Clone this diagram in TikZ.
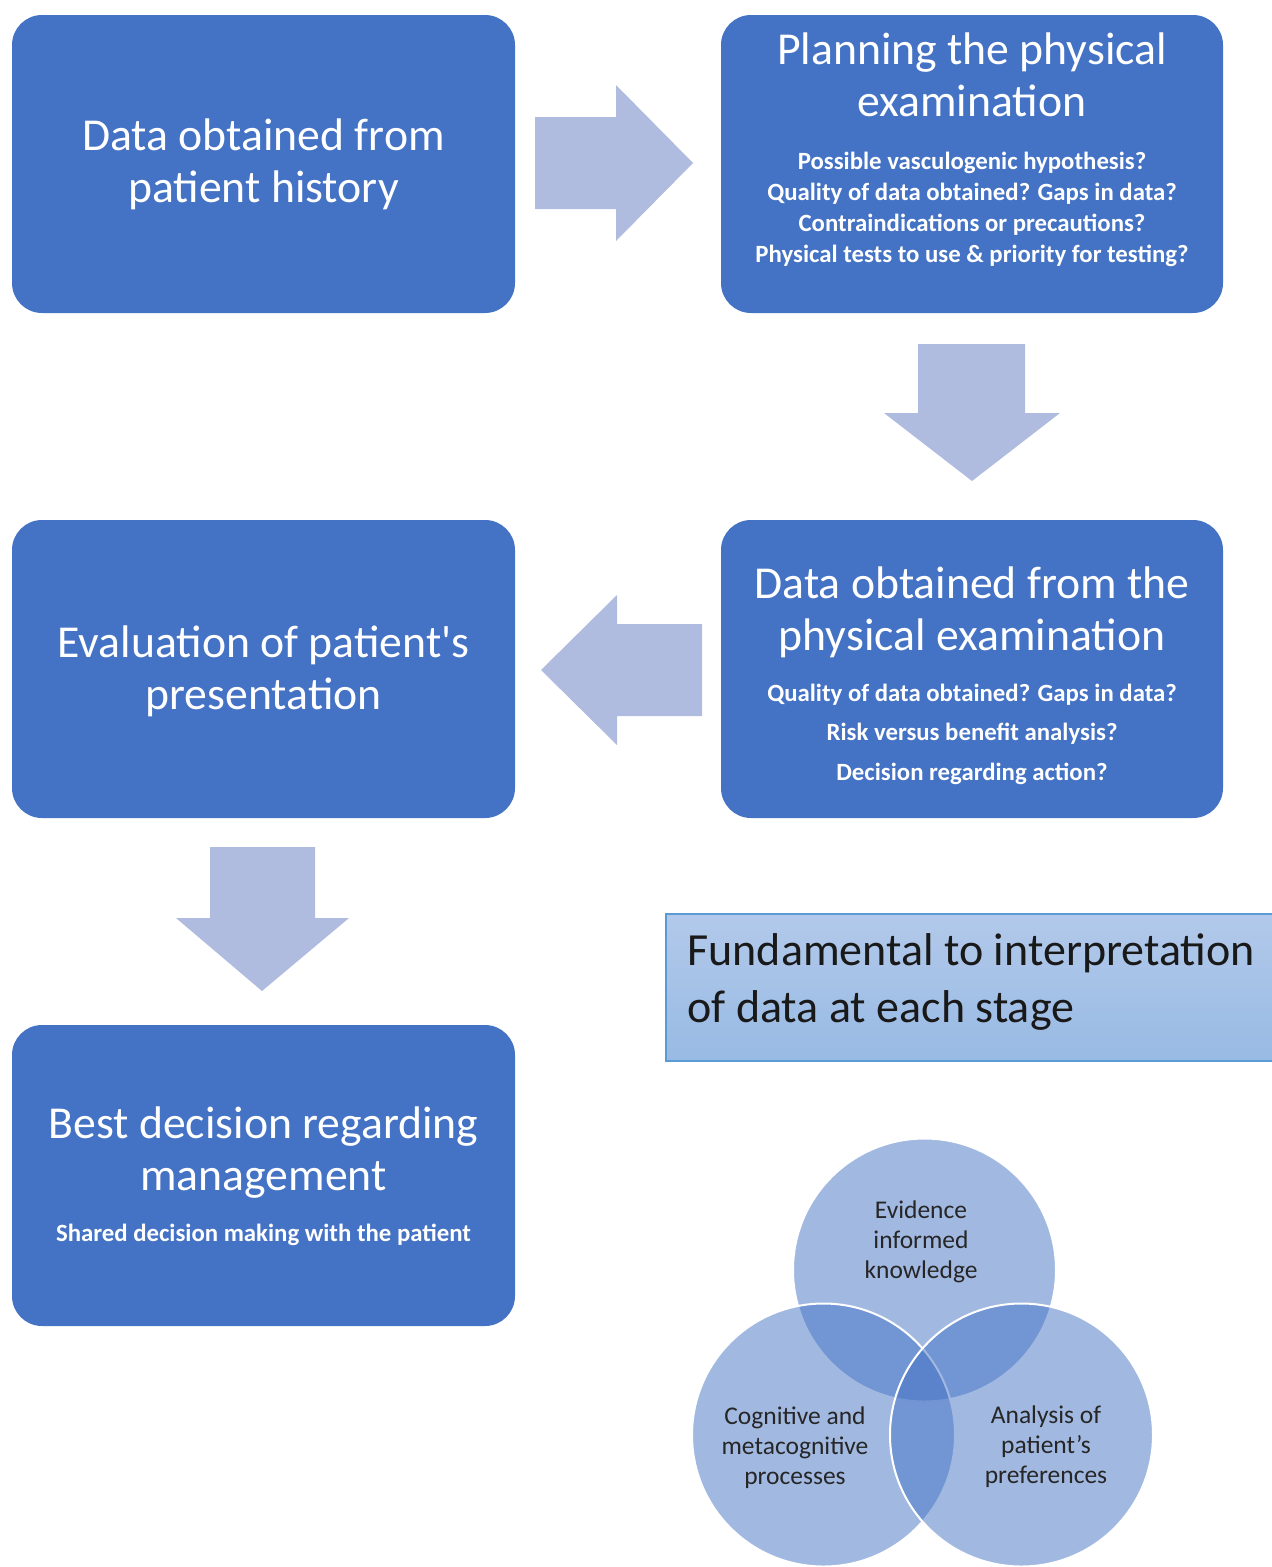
\documentclass[tikz,border=0pt]{standalone}
\usepackage{fontspec}
\setmainfont{Carlito}[Ligatures=TeXOff]
\definecolor{boxblue}{RGB}{68,114,196}
\definecolor{arrowblue}{RGB}{175,188,223}
\definecolor{fundborder}{RGB}{91,155,213}
\definecolor{fundtop}{RGB}{178,201,234}
\definecolor{fundbot}{RGB}{152,186,228}
\tikzset{
  stagebox/.style={draw=none, fill=boxblue, rounded corners=30pt},
  blockarrow/.style={fill=arrowblue, draw=none},
  titletext/.style={text=white, align=center, font=\fontsize{45.7}{52}\selectfont},
  smalltext/.style={text=white, align=center, font=\bfseries\fontsize{24.8}{31}\selectfont},
  vennc/.style={fill=boxblue, fill opacity=0.5, draw=white, line width=2pt},
  venntext/.style={text=black!85, align=center, font=\fontsize{25.5}{30}\selectfont}
}
\begin{document}
\begin{tikzpicture}[x=1pt,y=-1pt]
\useasboundingbox (0,0) rectangle (1272,1567);
\clip (0,0) rectangle (1272,1567);
% stage boxes
\draw[stagebox] (12,15) rectangle (515,313);
\draw[stagebox] (721,15) rectangle (1223,313);
\draw[stagebox] (12,520) rectangle (515,818);
\draw[stagebox] (721,520) rectangle (1223,818);
\draw[stagebox] (12,1025) rectangle (515,1326);
% box texts
\node[titletext] (t1) at (263.5,164) {Data obtained from\\patient history};
\node[titletext] (t2) at (972,74.5) {Planning the physical\\examination};
\node[smalltext] (s2) at (972,209) {Possible vasculogenic hypothesis?\\Quality of data obtained? Gaps in data?\\Contraindications or precautions?\\Physical tests to use \& priority for testing?};
\node[titletext] (t3) at (263.5,671.5) {Evaluation of patient's\\presentation};
\node[titletext] (t4) at (972,612) {Data obtained from the\\physical examination};
\node[smalltext, font=\bfseries\fontsize{24.8}{39.5}\selectfont] (s4) at (972,734) {Quality of data obtained? Gaps in data?\\Risk versus benefit analysis?\\Decision regarding action?};
\node[titletext] (t5) at (263.5,1152.5) {Best decision regarding\\management};
\node[smalltext] (s5) at (263.5,1235) {Shared decision making with the patient};
% block arrows
\fill[blockarrow] (535,117) -- (616,117) -- (616,85) -- (693,163) -- (616,241) -- (616,209) -- (535,209) -- cycle;
\fill[blockarrow] (918,344) -- (1025,344) -- (1025,413) -- (1060,413) -- (972,481) -- (884,413) -- (918,413) -- cycle;
\fill[blockarrow] (702,624) -- (617,624) -- (617,595) -- (541,670) -- (617,745) -- (617,716) -- (702,716) -- cycle;
\fill[blockarrow] (210,847) -- (315,847) -- (315,918) -- (349,918) -- (262,991) -- (176,918) -- (210,918) -- cycle;
% fundamental box
\draw[fundborder, line width=1.5pt, top color=fundtop, bottom color=fundbot] (666,914) rectangle (1290,1061);
\node[anchor=west, align=left, text=black!90, font=\fontsize{46}{57}\selectfont] (fund) at (684,982) {Fundamental to interpretation\\of data at each stage};
% venn
\draw[vennc] (924.5,1270) circle (131.5);
\draw[vennc] (823.5,1435) circle (131.5);
\draw[vennc] (1021.5,1435) circle (131.5);
\node[venntext] (v1) at (921,1242) {Evidence\\informed\\knowledge};
\node[venntext] (v2) at (795,1448) {Cognitive and\\metacognitive\\processes};
\node[venntext] (v3) at (1046,1447) {Analysis of\\patient’s\\preferences};
\end{tikzpicture}
\end{document}
